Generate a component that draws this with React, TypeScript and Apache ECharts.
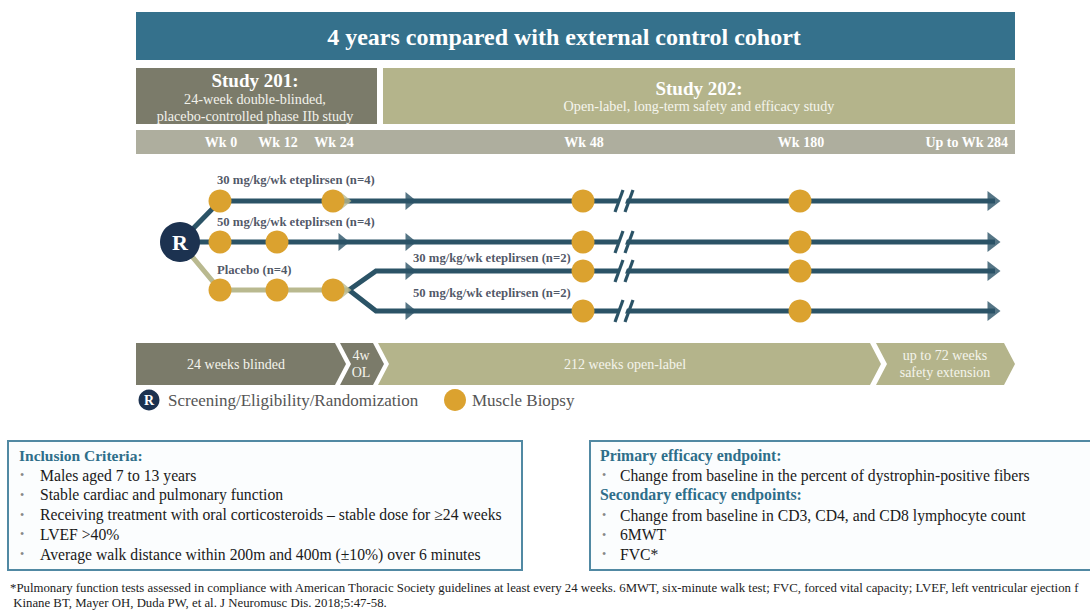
import { useEffect, useRef } from 'react';
import * as echarts from 'echarts';

// ---------------- data ----------------
const bannerTitle = '4 years compared with external control cohort';
const studyTitles = ['Study 201:', 'Study 202:'];
const study201Desc = ['24-week double-blinded,', 'placebo-controlled phase IIb study'];
const study202Desc = ['Open-label, long-term safety and efficacy study'];
const weekTicks = [0, 12, 24, 48, 180, 284];
const weekTickLabels = ['Wk 0', 'Wk 12', 'Wk 24', 'Wk 48', 'Wk 180', 'Up to Wk 284'];
const armNames = [
  '30 mg/kg/wk eteplirsen (n=4)',
  '50 mg/kg/wk eteplirsen (n=4)',
  'Placebo (n=4)',
  '30 mg/kg/wk eteplirsen (n=2)',
  '50 mg/kg/wk eteplirsen (n=2)',
];
const armBiopsyWeeks = [
  [0, 24, 48, 180],
  [0, 12, 48, 180],
  [0, 12, 24],
  [48, 180],
  [48, 180],
];
const phaseLabels = ['24 weeks blinded', '4w\nOL', '212 weeks open-label', 'up to 72 weeks\nsafety extension'];
const legendLabels = ['Screening/Eligibility/Randomization', 'Muscle Biopsy'];
const inclusionTitle = 'Inclusion Criteria:';
const inclusionCriteria = [
  'Males aged 7 to 13 years',
  'Stable cardiac and pulmonary function',
  'Receiving treatment with oral corticosteroids \u2013 stable dose for \u226524 weeks',
  'LVEF >40%',
  'Average walk distance within 200m and 400m (\u00b110%) over 6 minutes',
];
const primaryTitle = 'Primary efficacy endpoint:';
const primaryEndpoints = ['Change from baseline in the percent of dystrophin-positive fibers'];
const secondaryTitle = 'Secondary efficacy endpoints:';
const secondaryEndpoints = ['Change from baseline in CD3, CD4, and CD8 lymphocyte count', '6MWT', 'FVC*'];
// the reference image is cropped at its right edge; only the visible part of the first footnote line is kept
const footnotes = [
  '*Pulmonary function tests assessed in compliance with American Thoracic Society guidelines at least every 24 weeks. 6MWT, six-minute walk test; FVC, forced vital capacity; LVEF, left ventricular ejection f',
  ' Kinane BT, Mayer OH, Duda PW, et al. J Neuromusc Dis. 2018;5:47-58.',
];

// ---------------- layout / style ----------------
const C = {
  banner: '#35718c',
  s201: '#7b7b6a',
  s202: '#b4b48b',
  wkbar: '#aeae9e',
  dark: '#2b5366',
  khaki: '#b9b98f',
  orange: '#dba22f',
  navy: '#1c3250',
  armText: '#1f2c40',
  teal: '#2e6e8a',
  border: '#5189a3',
};
const SERIF = "'Liberation Serif', 'Times New Roman', serif";
const weekAnchorPx = [220, 277, 333, 583, 800, 1000];
function wx(w: number): number {
  for (let i = 0; i < weekTicks.length - 1; i++) {
    if (w <= weekTicks[i + 1]) {
      const t = (w - weekTicks[i]) / (weekTicks[i + 1] - weekTicks[i]);
      return weekAnchorPx[i] + t * (weekAnchorPx[i + 1] - weekAnchorPx[i]);
    }
  }
  return weekAnchorPx[weekAnchorPx.length - 1];
}
const laneY = [201, 242, 290, 271, 311];
const rPos = [180, 242];
const splitX = 349;
const lineEnd = 995;
const midArrow1 = 344;
const midArrow2 = 411;
const endArrow = 994;
const breakX = 624;

const txt = (x: number, y: number, text: string, font: string, fill: string, align = 'left', vAlign = 'middle', extra: any = {}) => ({
  type: 'text',
  x,
  y,
  silent: true,
  style: { text, font, fill, align, verticalAlign: vAlign, textAlign: align, textVerticalAlign: vAlign, ...extra },
});

function buildOption() {
  const graphic: any[] = [];
  // banner
  graphic.push({ type: 'rect', shape: { x: 136, y: 12, width: 879, height: 48 }, style: { fill: C.banner } });
  graphic.push(txt(564, 37, bannerTitle, `bold 24px ${SERIF}`, '#ffffff', 'center'));
  // study boxes
  graphic.push({ type: 'rect', shape: { x: 136, y: 68, width: 241, height: 56 }, style: { fill: C.s201 } });
  graphic.push({ type: 'rect', shape: { x: 383, y: 68, width: 632, height: 56 }, style: { fill: C.s202 } });
  graphic.push(txt(255, 80, studyTitles[0], `bold 19px ${SERIF}`, '#ffffff', 'center'));
  study201Desc.forEach((d, i) => graphic.push(txt(255, 99 + i * 17, d, `14.2px ${SERIF}`, '#f2f2ea', 'center')));
  graphic.push(txt(699, 88, studyTitles[1], `bold 19px ${SERIF}`, '#ffffff', 'center'));
  study202Desc.forEach((d, i) => graphic.push(txt(699, 106 + i * 17, d, `14.2px ${SERIF}`, '#f6f6ee', 'center')));
  // week bar
  graphic.push({ type: 'rect', shape: { x: 136, y: 130, width: 879, height: 24 }, style: { fill: C.wkbar } });
  weekTicks.forEach((w, i) => {
    const last = i === weekTicks.length - 1;
    graphic.push(txt(last ? 1008 : wx(w) + 1, 142, weekTickLabels[i], `bold 14px ${SERIF}`, '#ffffff', last ? 'right' : 'center'));
  });
  // phase chevrons
  const top = 343, bot = 385, mid = 364, d = 11;
  const segs = [
    { x0: 136, x1: 335, notch: false, fill: C.s201 },
    { x0: 340, x1: 373, notch: true, fill: C.s201 },
    { x0: 378, x1: 870, notch: true, fill: C.s202 },
    { x0: 876, x1: 1004, notch: true, fill: C.s202 },
  ];
  segs.forEach((s, i) => {
    const pts = [[s.x0, top], [s.x1, top], [s.x1 + d, mid], [s.x1, bot], [s.x0, bot]];
    if (s.notch) pts.push([s.x0 + d, mid]);
    graphic.push({ type: 'polygon', shape: { points: pts }, style: { fill: s.fill } });
    const cx = i === 0 ? 236 : i === 1 ? 361 : i === 2 ? 625 : 945;
    const lines = phaseLabels[i].split('\n');
    lines.forEach((l, j) => {
      const y = lines.length === 1 ? mid : mid - 8.5 + j * 17;
      graphic.push(txt(cx, y, l, `14px ${SERIF}`, '#f4f4ec', 'center'));
    });
  });
  // legend
  graphic.push({ type: 'circle', shape: { cx: 149, cy: 400, r: 10.5 }, style: { fill: C.navy } });
  graphic.push(txt(149, 400.5, 'R', `bold 14px ${SERIF}`, '#ffffff', 'center'));
  graphic.push(txt(168, 400, legendLabels[0], `17px ${SERIF}`, '#555555'));
  graphic.push({ type: 'circle', shape: { cx: 455, cy: 400, r: 11 }, style: { fill: C.orange } });
  graphic.push(txt(472, 400, legendLabels[1], `17px ${SERIF}`, '#555555'));
  // inclusion criteria box
  graphic.push({ type: 'rect', shape: { x: 8, y: 441, width: 514, height: 129 }, style: { fill: '#fbfdfe', stroke: C.border, lineWidth: 2 } });
  graphic.push(txt(19, 455, inclusionTitle, `bold 15.5px ${SERIF}`, C.teal));
  inclusionCriteria.forEach((c, i) => {
    const y = 475 + i * 19.8;
    graphic.push(txt(22, y, '\u2022', `12px ${SERIF}`, '#888888', 'center'));
    graphic.push(txt(40, y, c, `15.7px ${SERIF}`, '#1a1a1a'));
  });
  // endpoints box
  graphic.push({ type: 'rect', shape: { x: 590, y: 441, width: 520, height: 129 }, style: { fill: '#fbfdfe', stroke: C.border, lineWidth: 2 } });
  graphic.push(txt(600, 455, primaryTitle, `bold 15.8px ${SERIF}`, C.teal));
  primaryEndpoints.forEach((c, i) => {
    const y = 475 + i * 19.8;
    graphic.push(txt(604, y, '\u2022', `12px ${SERIF}`, '#888888', 'center'));
    graphic.push(txt(620, y, c, `15.7px ${SERIF}`, '#1a1a1a'));
  });
  graphic.push(txt(600, 494, secondaryTitle, `bold 15.8px ${SERIF}`, C.teal));
  secondaryEndpoints.forEach((c, i) => {
    const y = 515 + i * 19.6;
    graphic.push(txt(604, y, '\u2022', `12px ${SERIF}`, '#888888', 'center'));
    graphic.push(txt(620, y, c, `15.7px ${SERIF}`, '#1a1a1a'));
  });
  // footnotes
  footnotes.forEach((f, i) => graphic.push(txt(10, 588 + i * 15, f, `12.8px ${SERIF}`, '#222222')));

  // ---- series (timeline) ----
  const armPaths = [
    { pts: [rPos, [wx(0), laneY[0]], [lineEnd, laneY[0]]], color: C.dark },
    { pts: [rPos, [lineEnd, laneY[1]]], color: C.dark },
    { pts: [rPos, [wx(0), laneY[2]], [splitX, laneY[2]]], color: C.khaki },
    { pts: [[splitX, laneY[2]], [splitX + 27, laneY[3]], [lineEnd, laneY[3]]], color: C.dark },
    { pts: [[splitX, laneY[2]], [splitX + 27, laneY[4]], [lineEnd, laneY[4]]], color: C.dark },
  ];
  const lineSeries = armPaths.map((a, i) => ({
    type: 'line',
    name: armNames[i],
    data: a.pts,
    showSymbol: false,
    symbol: 'none',
    silent: true,
    z: 2,
    lineStyle: { color: a.color, width: 5, join: 'miter' },
  }));
  const arrowData: any[] = [];
  const pushArrow = (x: number, y: number, color: string, size: number[]) =>
    arrowData.push({ value: [x, y], itemStyle: { color }, symbolSize: size });
  pushArrow(midArrow1 + 2, laneY[0], C.khaki, [18, 11]);
  pushArrow(midArrow1, laneY[1], C.dark, [18, 11]);
  pushArrow(midArrow1 + 2, laneY[2], C.khaki, [18, 11]);
  [0, 1, 3, 4].forEach((k) => pushArrow(midArrow2, laneY[k], C.dark, [18, 11]));
  [0, 1, 3, 4].forEach((k) => pushArrow(endArrow, laneY[k], C.dark, [20, 13]));

  const biopsyData: number[][] = [];
  armBiopsyWeeks.forEach((ws, i) => ws.forEach((w) => biopsyData.push([wx(w), laneY[i]])));

  const labelData = [
    { value: [217, laneY[0] - 21], name: armNames[0] },
    { value: [217, laneY[1] - 20], name: armNames[1] },
    { value: [217, laneY[2] - 20], name: armNames[2] },
    { value: [413, laneY[3] - 13], name: armNames[3] },
    { value: [413, laneY[4] - 18], name: armNames[4] },
  ];

  return {
    animation: false,
    backgroundColor: '#ffffff',
    grid: { left: 0, right: 0, top: 0, bottom: 0 },
    xAxis: { type: 'value', min: 0, max: 1090, show: false },
    yAxis: { type: 'value', min: 0, max: 610, inverse: true, show: false },
    graphic,
    series: [
      ...lineSeries,
      {
        type: 'scatter',
        name: 'arrows',
        symbol: 'triangle',
        symbolRotate: -90,
        silent: true,
        z: 3,
        data: arrowData,
      },
      {
        type: 'custom',
        name: 'breaks',
        silent: true,
        z: 4,
        data: [0, 1, 3, 4].map((k) => [breakX, laneY[k]]),
        renderItem: (_p: any, api: any) => {
          const p = api.coord([api.value(0), api.value(1)]);
          const x = p[0], y = p[1];
          return {
            type: 'group',
            children: [
              { type: 'polygon', shape: { points: [[x - 9, y + 11], [x - 1, y - 11], [x + 6, y - 11], [x - 2, y + 11]] }, style: { fill: '#ffffff' } },
              { type: 'line', shape: { x1: x - 9, y1: y + 11, x2: x - 1, y2: y - 11 }, style: { stroke: C.dark, lineWidth: 3.2 } },
              { type: 'line', shape: { x1: x + 1, y1: y + 11, x2: x + 9, y2: y - 11 }, style: { stroke: C.dark, lineWidth: 3.2 } },
            ],
          };
        },
      },
      {
        type: 'scatter',
        name: 'Muscle Biopsy',
        symbol: 'circle',
        symbolSize: 23,
        silent: true,
        z: 5,
        itemStyle: { color: C.orange, opacity: 1 },
        data: biopsyData,
      },
      {
        type: 'scatter',
        name: 'Randomization',
        symbolSize: 40,
        silent: true,
        z: 6,
        itemStyle: { color: C.navy, opacity: 1 },
        label: { show: true, position: 'inside', formatter: 'R', color: '#ffffff', fontFamily: SERIF, fontWeight: 'bold', fontSize: 22 },
        data: [rPos],
      },
      {
        type: 'scatter',
        name: 'armLabels',
        symbolSize: 0,
        silent: true,
        z: 7,
        label: {
          show: true,
          position: 'right',
          distance: 0,
          formatter: (p: any) => p.name,
          color: C.armText,
          fontFamily: SERIF,
          fontWeight: 'bold',
          fontSize: 12.7,
        },
        data: labelData,
      },
    ],
  };
}

export default function App() {
  const ref = useRef<HTMLDivElement>(null);
  useEffect(() => {
    if (!ref.current) return;
    const chart = echarts.init(ref.current, undefined, { renderer: 'svg' });
    chart.setOption(buildOption() as any);
    return () => chart.dispose();
  }, []);
  return <div ref={ref} style={{ position: 'absolute', left: 0, top: 0, width: 1090, height: 610 }} />;
}
